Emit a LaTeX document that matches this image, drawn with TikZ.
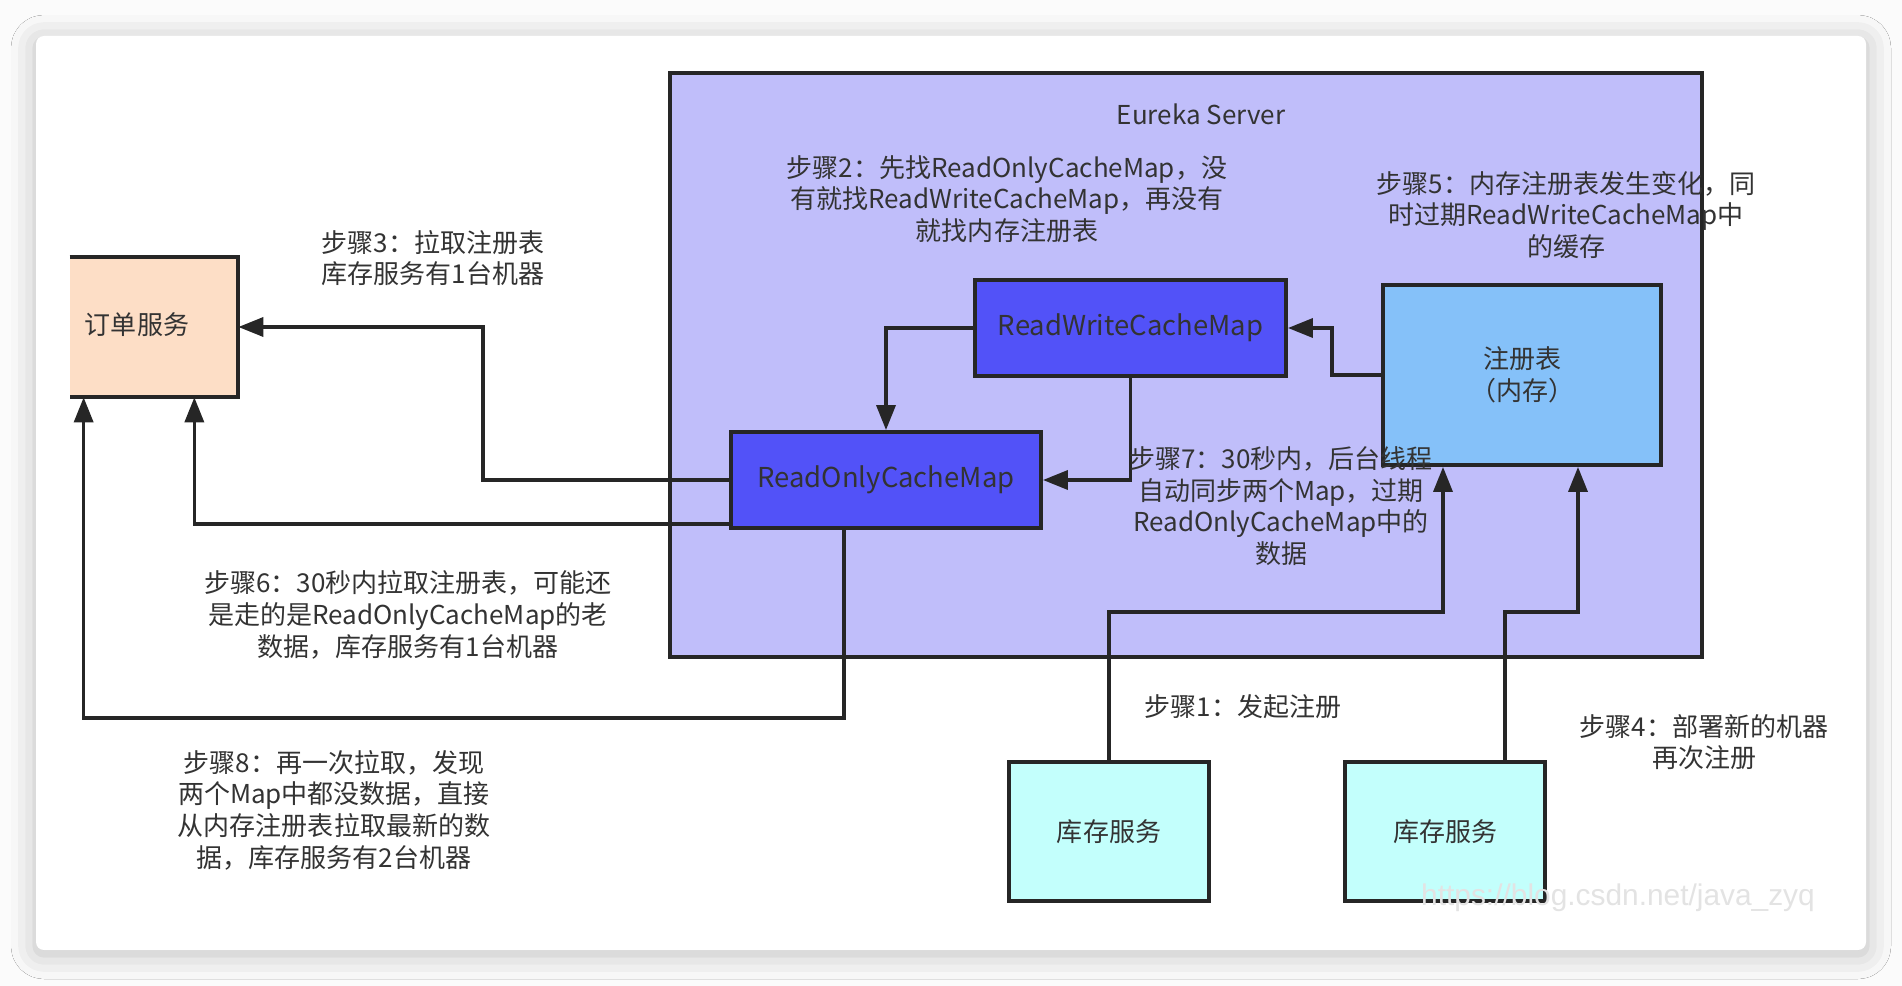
\documentclass[tikz,border=0pt]{standalone}
\usepackage{fontspec}
\newfontfamily\cjkfont{Noto Sans CJK SC}
\newfontfamily\markfont{Liberation Sans}
\usepackage{tikz}
\usetikzlibrary{arrows.meta, positioning, shadows.blur}
\definecolor{serverbg}{HTML}{C0BEFA}
\definecolor{cachebg}{HTML}{5252F8}
\definecolor{registrybg}{HTML}{85C1F9}
\definecolor{orderbg}{HTML}{FDDEC6}
\definecolor{stockbg}{HTML}{C3FFFC}
\definecolor{inktext}{HTML}{333333}

\begin{document}
\begin{tikzpicture}[
  every node/.style={font=\cjkfont\fontsize{14.8pt}{18pt}\selectfont, text=inktext},
  flow/.style={-{Triangle[length=0.5cm, width=0.38cm]}, line width=2pt, black!85},
  box/.style={draw=black!85, line width=2.2pt, align=center, inner sep=0pt},
  boxfont/.style={font=\cjkfont\fontsize{15.6pt}{18pt}\selectfont},
  note/.style={align=center, inner sep=1pt}
]

% page and card
\useasboundingbox (0,0) rectangle (38.04,-19.72);
\fill[gray!3] (0,0) rectangle (38.04,-19.72);
\fill[white, rounded corners=0.16cm,
  blur shadow={shadow xshift=0pt, shadow yshift=-0.08cm,
    shadow blur radius=0.5cm, shadow opacity=25}]
  (0.72,-0.72) rectangle (37.32,-19.00);

% eureka server frame
\node[box, fill=serverbg, minimum width=20.64cm, minimum height=11.68cm]
  (server) at (23.72,-7.30) {};
\node[note] (eureka) at (24.02,-2.28) {Eureka Server};

% caches and registry
\node[box, boxfont, fill=cachebg, minimum width=6.22cm, minimum height=1.92cm]
  (rwcm) at (22.61,-6.56) {ReadWriteCacheMap};
\node[box, boxfont, fill=cachebg, minimum width=6.20cm, minimum height=1.92cm]
  (rocm) at (17.72,-9.60) {ReadOnlyCacheMap};
\node[box, fill=registrybg, minimum width=5.56cm, minimum height=3.60cm]
  (reg) at (30.44,-7.50) {注册表\\（内存）};

% order service (left edge cut off)
\node[fill=orderbg, minimum width=3.36cm, minimum height=2.80cm, inner sep=0pt]
  (order) at (3.08,-6.54) {};
\draw[black!85, line width=2.2pt]
  (order.north west) -- (order.north east) -- (order.south east) -- (order.south west);
\node (ordertext) at (2.74,-6.50) {订单服务};

% stock services
\node[box, fill=stockbg, minimum width=4.0cm, minimum height=2.78cm]
  (inv1) at (22.18,-16.63) {库存服务};
\node[box, fill=stockbg, minimum width=4.0cm, minimum height=2.78cm]
  (inv2) at (28.90,-16.63) {库存服务};

% connectors inside the server
\draw[flow] (reg.west) -- ++(-0.98,0) |- (rwcm.east);
\draw[flow] (rwcm.west) -| (rocm.north);
\draw[flow] (rwcm.south) |- (rocm.east);

% pulls back to the order service
\draw[flow] (rocm.west) -- ++(-4.92,0) |- (order.east);
\draw[flow] ([yshift=0.12cm]rocm.south west) -| ([xshift=-0.88cm]order.south east);
\draw[flow] ([xshift=-0.84cm]rocm.south) -- ++(0,-3.76) -| ([xshift=0.28cm]order.south west);

% registrations
\draw[flow] (inv1.north) -- ++(0,2.96) -| ([xshift=-1.58cm]reg.south);
\draw[flow] ([xshift=1.2cm]inv2.north) -- ++(0,2.96) -| ([xshift=1.12cm]reg.south);

% step notes
\node[note] (step1) at (24.86,-14.14) {步骤1：发起注册};
\node[note] (step2) at (20.14,-3.98)
  {步骤2：先找ReadOnlyCacheMap，没\\有就找ReadWriteCacheMap，再没有\\就找内存注册表};
\node[note] (step3) at (8.66,-5.16) {步骤3：拉取注册表\\库存服务有1台机器};
\node[note] (step4) at (34.08,-14.84) {步骤4：部署新的机器\\再次注册};
\node[note] (step5) at (31.32,-4.30)
  {步骤5：内存注册表发生变化，同\\时过期ReadWriteCacheMap中\\的缓存};
\node[note] (step6) at (8.16,-12.30)
  {步骤6：30秒内拉取注册表，可能还\\是走的是ReadOnlyCacheMap的老\\数据，库存服务有1台机器};
\node[note] (step7) at (25.62,-10.12)
  {步骤7：30秒内，后台线程\\自动同步两个Map，过期\\ReadOnlyCacheMap中的\\数据};
\node[note] (step8) at (6.68,-16.20)
  {步骤8：再一次拉取，发现\\两个Map中都没数据，直接\\从内存注册表拉取最新的数\\据，库存服务有2台机器};

% watermark
\node[font=\markfont\fontsize{17pt}{20pt}\selectfont, text=gray!22] (mark)
  at (32.36,-17.96) {https://blog.csdn.net/java\_zyq};

\end{tikzpicture}
\end{document}
